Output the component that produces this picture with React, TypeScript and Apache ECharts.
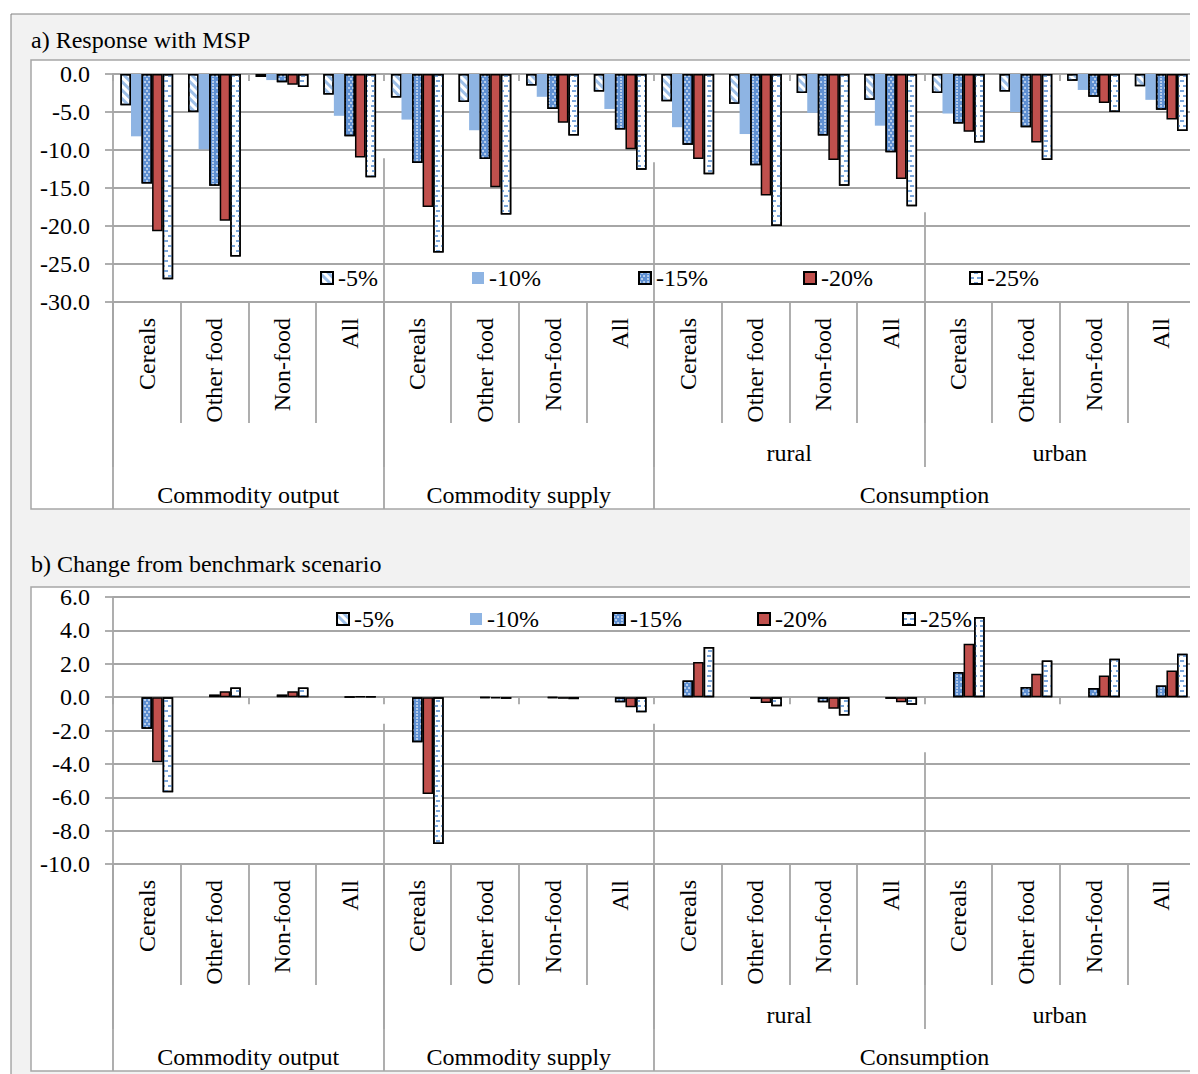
import React, { useEffect, useRef } from 'react';
import * as echarts from 'echarts';

// ---------- data ----------
const categories = [
  'Cereals', 'Other food', 'Non-food', 'All',
  'Cereals', 'Other food', 'Non-food', 'All',
  'Cereals', 'Other food', 'Non-food', 'All',
  'Cereals', 'Other food', 'Non-food', 'All',
];
const subgroupLabels = ['', '', 'rural', 'urban'];
const subgroupSpans = [4, 4, 4, 4];
const groupLabels = ['Commodity output', 'Commodity supply', 'Consumption'];
const groupSpans = [4, 4, 8];
const seriesNames = ['-5%', '-10%', '-15%', '-20%', '-25%'];

// a) Response with MSP
const a5 = [-4.1, -5.0, -0.4, -2.7, -3.1, -3.7, -1.5, -2.3, -3.6, -3.9, -2.5, -3.4, -2.5, -2.3, -0.9, -1.6];
const a10 = [-8.2, -9.9, -0.8, -5.5, -6.0, -7.4, -3.0, -4.6, -7.0, -7.9, -5.1, -6.8, -5.2, -5.0, -2.1, -3.4];
const a15 = [-14.4, -14.7, -1.1, -8.2, -11.7, -11.2, -4.6, -7.3, -9.3, -12.0, -8.1, -10.3, -6.5, -7.0, -3.0, -4.7];
const a20 = [-20.7, -19.3, -1.4, -11.0, -17.5, -14.9, -6.4, -9.9, -11.2, -16.0, -11.3, -13.8, -7.6, -9.0, -3.8, -6.0];
const a25 = [-27.0, -24.0, -1.7, -13.6, -23.5, -18.5, -8.1, -12.6, -13.2, -20.0, -14.7, -17.4, -9.0, -11.3, -5.0, -7.5];

// b) Change from benchmark scenario
const b5 = [0, 0, 0, 0, 0, 0, 0, 0, 0, 0, 0, 0, 0, 0, 0, 0];
const b10 = [0, 0, 0, 0, 0, 0, 0, 0, 0, 0, 0, 0, 0, 0, 0, 0];
const b15 = [-1.9, 0.15, 0.15, 0.02, -2.7, -0.05, -0.05, -0.3, 1.0, -0.1, -0.3, -0.1, 1.5, 0.6, 0.55, 0.7];
const b20 = [-3.9, 0.35, 0.35, 0.03, -5.8, -0.08, -0.1, -0.6, 2.1, -0.35, -0.7, -0.3, 3.2, 1.4, 1.3, 1.6];
const b25 = [-5.7, 0.58, 0.58, 0.04, -8.8, -0.1, -0.12, -0.9, 3.0, -0.55, -1.1, -0.45, 4.8, 2.2, 2.3, 2.6];

// group separator lines drawn inside the plot: [category boundary, top value]
const sepA = [[4, -11.1], [8, -11.6], [12, -18.2]];
const sepB = [[4, -1.6], [8, -1.6], [12, -3.3]];

// ---------- styles ----------
const FONT = 'Liberation Serif';
const GREY = '#a6a6a6';
const LW = 1.8;

const seriesStyles: any[] = [
  {
    color: '#ffffff', borderColor: '#000', borderWidth: 1.5,
    decal: { symbol: 'rect', symbolSize: 1, dashArrayX: [1, 0], dashArrayY: [3, 2.5], rotation: Math.PI / 4, color: '#9DBFE8' },
  },
  { color: '#8EB4E3', borderWidth: 0 },
  {
    color: '#5F90D2', borderColor: '#000', borderWidth: 1.5,
    decal: { symbol: 'circle', symbolSize: 0.8, dashArrayX: [[2, 1.5], [0, 1.75, 2, 1.75]], dashArrayY: [2, 1], color: 'rgba(255,255,255,0.85)' },
  },
  { color: '#C0504D', borderColor: '#000', borderWidth: 1.5 },
  {
    color: '#ffffff', borderColor: '#000', borderWidth: 1.5,
    decal: { symbol: 'rect', symbolSize: 1, dashArrayX: [[4, 3], [0, 3.5, 4, 0]], dashArrayY: [1.6, 2.4], color: '#7AA6DB' },
  },
];

const panels = [
  {
    title: 'a) Response with MSP', titleTop: 28,
    panelTop: 60, panelBottom: 509,
    grid: { left: 113, top: 74, width: 1084, height: 228 },
    yMin: -30, yMax: 0, yInterval: 5,
    data: [a5, a10, a15, a20, a25],
    sep: sepA,
    legendLefts: [320, 472, 638, 803, 969], legendCenter: 278,
  },
  {
    title: 'b) Change from benchmark scenario', titleTop: 552,
    panelTop: 587, panelBottom: 1071,
    grid: { left: 113, top: 597, width: 1084, height: 267 },
    yMin: -10, yMax: 6, yInterval: 2,
    data: [b5, b10, b15, b20, b25],
    sep: sepB,
    legendLefts: [336, 470, 612, 757, 902], legendCenter: 619,
  },
];

function cumulative(spans: number[]) {
  const out = [0];
  spans.forEach((s) => out.push(out[out.length - 1] + s));
  return out;
}

function levelData(labels: string[], spans: number[]) {
  const arr: string[] = new Array(categories.length + 1).fill('');
  const b = cumulative(spans);
  labels.forEach((l, i) => {
    arr[b[i] + spans[i] / 2] = l;
  });
  return arr;
}

function buildOption() {
  const xAxes: any[] = [];
  const yAxes: any[] = [];
  const grids: any[] = [];
  const series: any[] = [];
  const legends: any[] = [];
  const titles: any[] = [];
  const graphics: any[] = [
    { type: 'rect', z: -100, shape: { x: 11, y: 14, width: 1400, height: 1400 }, style: { fill: '#f2f2f2', stroke: '#808080', lineWidth: 1 } },
    { type: 'rect', z: 100, shape: { x: 1190, y: 0, width: 8, height: 1074 }, style: { fill: '#ffffff' } },
  ];
  const subB = cumulative(subgroupSpans);
  const grpB = cumulative(groupSpans);
  const textStyle = { fontFamily: FONT, fontSize: 24, color: '#000' };

  panels.forEach((p, pi) => {
    grids.push({ ...p.grid, containLabel: false });
    graphics.push({
      type: 'rect', z: -90,
      shape: { x: 31, y: p.panelTop, width: 1400, height: p.panelBottom - p.panelTop },
      style: { fill: '#ffffff', stroke: GREY, lineWidth: 1.5 },
    });
    titles.push({
      text: p.title, left: 31, top: p.titleTop, padding: 0,
      textStyle: { ...textStyle, fontWeight: 'normal' },
    });
    const base = xAxes.length;
    // zero line axis
    xAxes.push({
      type: 'category', gridIndex: pi, position: 'bottom', data: categories,
      axisLine: { show: true, onZero: true, lineStyle: { color: GREY, width: LW } },
      axisTick: { show: true, length: 7, lineStyle: { color: GREY, width: LW } },
      axisLabel: { show: false }, splitLine: { show: false },
    });
    // level 1: categories
    xAxes.push({
      type: 'category', gridIndex: pi, position: 'bottom', data: categories,
      axisLine: { show: false, onZero: false },
      axisTick: { show: true, length: 121, lineStyle: { color: GREY, width: LW } },
      axisLabel: { show: true, interval: 0, rotate: 90, margin: 16, ...textStyle },
      splitLine: { show: false },
    });
    // level 2: rural / urban
    xAxes.push({
      type: 'category', gridIndex: pi, position: 'bottom', boundaryGap: false,
      data: levelData(subgroupLabels, subgroupSpans),
      axisLine: { show: false, onZero: false },
      axisTick: { show: true, length: 165, interval: (i: number) => subB.includes(i), lineStyle: { color: GREY, width: LW } },
      axisLabel: { show: true, interval: 0, margin: 139, ...textStyle },
      splitLine: { show: false },
    });
    // level 3: groups
    xAxes.push({
      type: 'category', gridIndex: pi, position: 'bottom', boundaryGap: false,
      data: levelData(groupLabels, groupSpans),
      axisLine: { show: false, onZero: false },
      axisTick: { show: true, length: 207, interval: (i: number) => grpB.includes(i), lineStyle: { color: GREY, width: LW } },
      axisLabel: { show: true, interval: 0, margin: 181, ...textStyle },
      splitLine: { show: false },
    });
    // hidden value axis for separators
    xAxes.push({
      type: 'value', gridIndex: pi, position: 'bottom', min: 0, max: categories.length, show: false,
      axisLine: { onZero: false },
    });

    yAxes.push({
      type: 'value', gridIndex: pi, min: p.yMin, max: p.yMax, interval: p.yInterval,
      axisLine: { show: true, lineStyle: { color: GREY, width: LW } },
      axisTick: { show: true, length: 8, lineStyle: { color: GREY, width: LW } },
      axisLabel: { margin: 23, formatter: (v: number) => v.toFixed(1), ...textStyle },
      splitLine: { show: true, lineStyle: { color: GREY, width: LW } },
    });

    seriesNames.forEach((name, si) => {
      const st = { ...seriesStyles[si] };
      const vals = p.data[si];
      if (vals.every((v) => v === 0)) st.borderWidth = 0;
      series.push({
        type: 'bar', name, xAxisIndex: base + 1, yAxisIndex: pi,
        data: vals, barGap: '0%', barCategoryGap: '22%',
        itemStyle: st, emphasis: { disabled: true },
      });
      legends.push({
        data: [name], left: p.legendLefts[si], top: p.legendCenter - 12,
        padding: 0, itemWidth: 12, itemHeight: 12, icon: 'rect', selectedMode: false,
        textStyle,
      });
    });

    series.push({
      type: 'lines', coordinateSystem: 'cartesian2d', xAxisIndex: base + 4, yAxisIndex: pi,
      silent: true, z: 1,
      lineStyle: { color: GREY, width: LW, opacity: 1 },
      data: p.sep.map(([x, y]) => ({ coords: [[x, y], [x, p.yMin]] })),
    });
  });

  return {
    animation: false,
    backgroundColor: '#ffffff',
    textStyle: { fontFamily: FONT },
    title: titles,
    grid: grids,
    xAxis: xAxes,
    yAxis: yAxes,
    legend: legends,
    series,
    graphic: graphics,
  };
}

export default function App() {
  const ref = useRef<HTMLDivElement>(null);
  useEffect(() => {
    if (!ref.current) return;
    const chart = echarts.init(ref.current, null, { renderer: 'svg' });
    chart.setOption(buildOption() as any);
    return () => chart.dispose();
  }, []);
  return (
    <div
      ref={ref}
      style={{ position: 'absolute', left: 0, top: 0, width: 1198, height: 1074 }}
    />
  );
}
